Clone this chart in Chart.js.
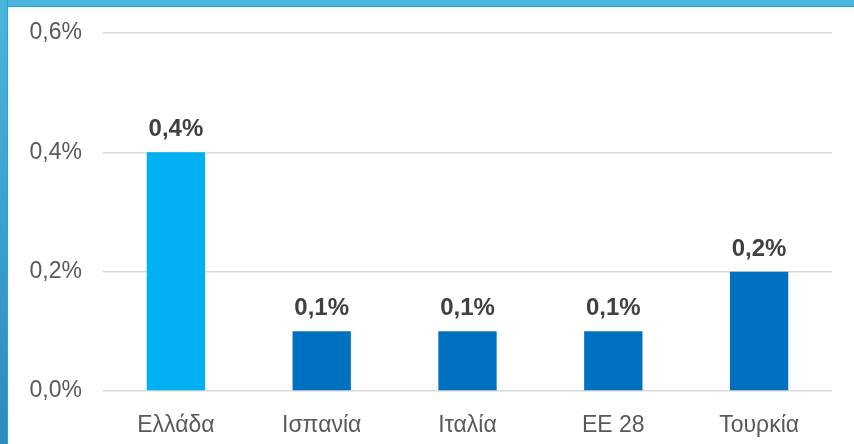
<!DOCTYPE html>
<html>
<head>
<meta charset="utf-8">
<script src="https://cdn.jsdelivr.net/npm/chart.js@4"></script>
<style>
  html, body { margin: 0; padding: 0; background: #fff; }
  body { width: 854px; height: 444px; position: relative; overflow: hidden; }
  #frameTop { position: absolute; left: 0; top: 0; width: 854px; height: 6px; background: #4bb5de; border-bottom: 1px solid #17a9ee; }
  #frameLeft { position: absolute; left: 0; top: 0; width: 7px; height: 444px; background: linear-gradient(#4ab6dc, #2f8abd); border-right: 1px solid #17a9ee; }
  #wrap { position: absolute; left: 8px; top: 7px; width: 846px; height: 437px; }
</style>
</head>
<body>
<div id="frameTop"></div>
<div id="frameLeft"></div>
<div id="wrap"><canvas id="barChart"></canvas></div>
<script>
const countries = ['Ελλάδα', 'Ισπανία', 'Ιταλία', 'ΕΕ 28', 'Τουρκία'];
const shares = [0.4, 0.1, 0.1, 0.1, 0.2];
const barColors = ['#00b0f0', '#0070c0', '#0070c0', '#0070c0', '#0070c0'];
const yTicks = [0, 0.2, 0.4, 0.6];

const fmt = v => v.toFixed(1).replace('.', ',') + '%';
const family = '"Liberation Sans", Arial, sans-serif';

const valueLabels = {
  id: 'valueLabels',
  afterDatasetsDraw(chart) {
    const ctx = chart.ctx;
    const meta = chart.getDatasetMeta(0);
    ctx.save();
    ctx.font = 'bold 24px ' + family;
    ctx.fillStyle = '#404040';
    ctx.textAlign = 'center';
    ctx.textBaseline = 'alphabetic';
    meta.data.forEach((bar, i) => {
      ctx.fillText(fmt(shares[i]), bar.x, bar.y - 16);
    });
    ctx.restore();
  }
};

new Chart(document.getElementById('barChart'), {
  type: 'bar',
  data: {
    labels: countries,
    datasets: [{
      data: shares,
      backgroundColor: barColors,
      barPercentage: 0.4,
      categoryPercentage: 1
    }]
  },
  options: {
    responsive: true,
    maintainAspectRatio: false,
    animation: false,
    layout: { padding: { top: 26, right: 22, left: 0, bottom: 0 } },
    plugins: { legend: { display: false }, tooltip: { enabled: false } },
    scales: {
      x: {
        grid: { display: false },
        border: { display: false },
        ticks: { color: '#595959', font: { size: 23, family: family }, padding: 13 },
        afterFit: s => { s.height = 53; }
      },
      y: {
        min: 0,
        max: 0.6,
        afterBuildTicks: s => { s.ticks = yTicks.map(v => ({ value: v })); },
        grid: { color: '#d9d9d9', lineWidth: 1.5, drawTicks: false },
        border: { display: false },
        ticks: {
          color: '#595959',
          font: { size: 23, family: family },
          padding: 21,
          callback: v => fmt(v)
        },
        afterFit: s => { s.width = 95; s.paddingTop = 0; s.paddingBottom = 0; }
      }
    }
  },
  plugins: [valueLabels]
});
</script>
</body>
</html>
